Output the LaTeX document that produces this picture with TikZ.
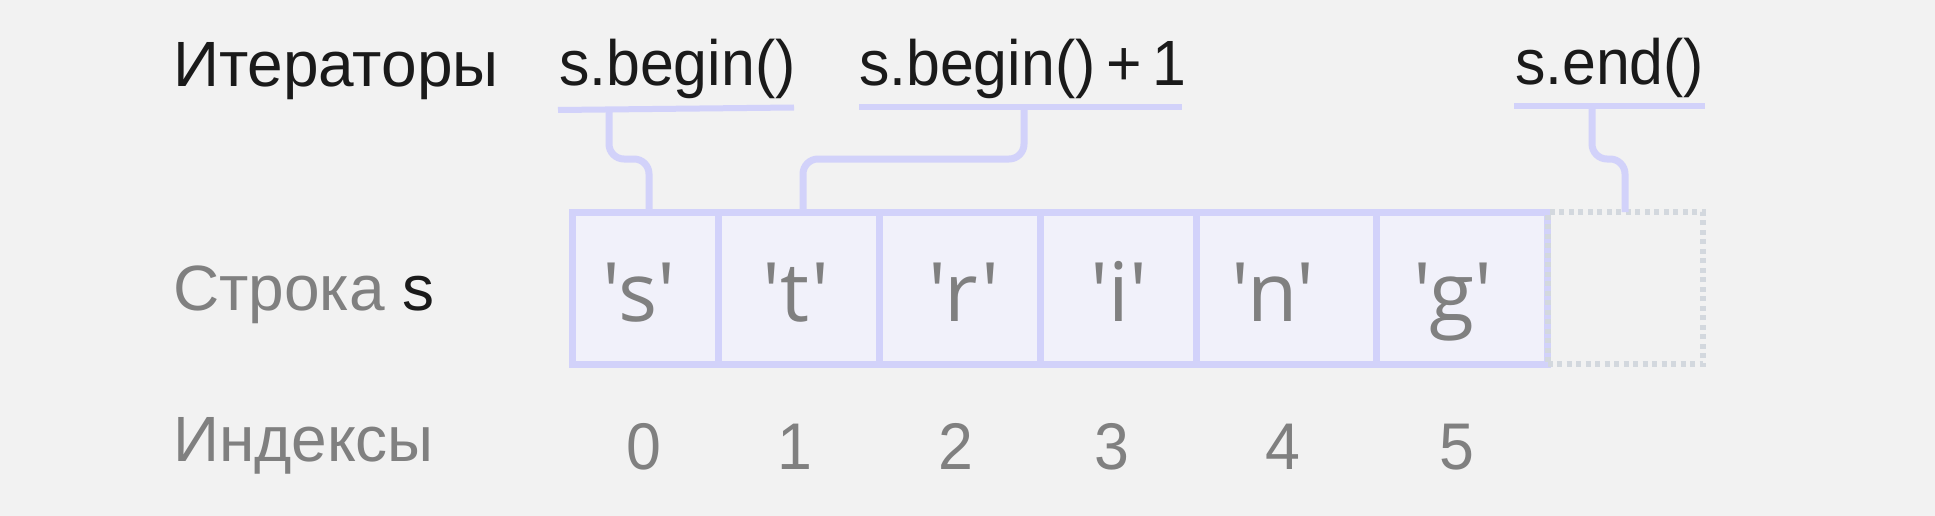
\documentclass[tikz,border=0pt]{standalone}
\usepackage{fontspec}
\setmainfont[FakeStretch=0.95]{Liberation Sans}
\newfontfamily\cyrfont{Liberation Sans}
\newfontfamily\cellfont{Open Sans}
\definecolor{bgc}{HTML}{F2F2F2}
\definecolor{ink}{HTML}{1A1A1A}
\definecolor{grayt}{HTML}{808080}
\definecolor{boxc}{HTML}{D2D2FA}
\definecolor{cellc}{HTML}{F1F1FA}
\definecolor{dotc}{HTML}{D3D8DE}
\tikzset{
  lbl/.style={anchor=base west, inner sep=0, outer sep=0, font=\fontsize{64}{70}\selectfont},
  rowlbl/.style={anchor=base west, inner sep=0, outer sep=0, font=\cyrfont\fontsize{64}{70}\selectfont},
  cellbox/.style={draw=boxc, fill=cellc, line width=7pt, inner sep=0, outer sep=0, minimum height=152pt},
  chr/.style={anchor=base, inner sep=0, outer sep=0, text=grayt, font=\cellfont\fontsize{82}{90}\selectfont},
  idx/.style={anchor=base, inner sep=0, outer sep=0, text=grayt, font=\fontsize{66}{70}\selectfont},
  uline/.style={draw=boxc, line width=6pt},
  conn/.style={draw=boxc, line width=7pt, rounded corners=15pt},
  dotbox/.style={draw=dotc, line width=6pt, dash pattern=on 5pt off 4.5pt}
}
\begin{document}
\begin{tikzpicture}[x=1pt,y=-1pt]
\useasboundingbox (0,0) rectangle (1935,516);
\fill[bgc] (0,0) rectangle (1935,516);

% row labels
\node[rowlbl, text=ink] (lit) at (173,87) {Итераторы};
\node[rowlbl] (lstr) at (173,310) {\textcolor{grayt}{Строка} \textcolor{ink}{s}};
\node[rowlbl, text=grayt] (lidx) at (173,461) {Индексы};

% iterator labels
\node[lbl, text=ink] (itb) at (559,86) {s.begin()};
\node[lbl, text=ink] (itb1) at (859,86) {s.begin()\hspace{11pt}+\hspace{11pt}1};
\node[lbl, text=ink] (ite) at (1515,85) {s.end()};

% underlines
\draw[uline] (558,110) -- (794,107.5);
\draw[uline] (859,107.5) -- (1182,107.5);
\draw[uline] (1514,106) -- (1705,106);
\coordinate (u1) at (609,109);
\coordinate (u2) at (1024,107.5);
\coordinate (u3) at (1592,106);

% cells
\node[cellbox, minimum width=145.4pt] (c0) at (645.3,288) {};
\node[cellbox, minimum width=161pt] (c1) at (798.5,288) {};
\node[cellbox, minimum width=161pt] (c2) at (959.5,288) {};
\node[cellbox, minimum width=156pt] (c3) at (1118,288) {};
\node[cellbox, minimum width=180pt] (c4) at (1286,288) {};
\node[cellbox, minimum width=171.5pt] (c5) at (1461.75,288) {};
\node[dotbox, minimum width=155.5pt, minimum height=152pt, inner sep=0, outer sep=0] (cend) at (1625.25,288) {};

% characters
\node[chr] (ch0) at (639,321) {'s'};
\node[chr] (ch1) at (796,321) {'t'};
\node[chr] (ch2) at (964,321) {'r'};
\node[chr] (ch3) at (1119,321) {'i'};
\node[chr] (ch4) at (1273,321) {'n'};
\node[chr] (ch5) at (1453,321) {'g'};

% indices
\node[idx] (i0) at (644,469) {0};
\node[idx] (i1) at (795,469) {1};
\node[idx] (i2) at (956,469) {2};
\node[idx] (i3) at (1112,469) {3};
\node[idx] (i4) at (1283,469) {4};
\node[idx] (i5) at (1457,469) {5};

% connectors
\coordinate (t1) at (649,212);
\coordinate (t2) at (803,212);
\coordinate (t3) at (1625,212);
\draw[conn] (u1) -- (u1 |- 0,159) -- (t1 |- 0,159) -- (t1);
\draw[conn] (u2) -- (u2 |- 0,159) -- (t2 |- 0,159) -- (t2);
\draw[conn] (u3) -- (u3 |- 0,159) -- (t3 |- 0,159) -- (t3);
\end{tikzpicture}
\end{document}
